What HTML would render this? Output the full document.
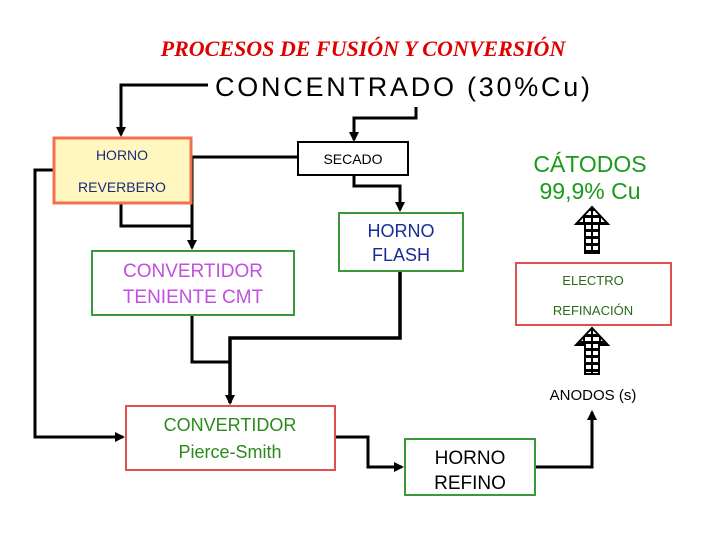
<!DOCTYPE html>
<html><head><meta charset="utf-8"><style>
html,body{margin:0;padding:0;background:#fff;width:720px;height:540px;overflow:hidden}
svg{display:block}
text{font-family:"Liberation Sans",sans-serif}
</style></head><body>
<svg width="720" height="540" viewBox="0 0 720 540" xmlns="http://www.w3.org/2000/svg">
<defs>
<marker id="a" markerWidth="10" markerHeight="10" refX="8" refY="5" orient="auto" markerUnits="userSpaceOnUse"><path d="M0,0 L10,5 L0,10 Z" fill="#000"/></marker>
<pattern id="st" width="8" height="7" patternUnits="userSpaceOnUse"><rect width="8" height="7" fill="#000"/><rect x="1" y="1" width="6" height="4" fill="#fff"/></pattern>
</defs>
<text x="363" y="56" text-anchor="middle" style="font-family:'Liberation Serif',serif;font-style:italic;font-weight:bold" font-size="22" fill="#e00000">PROCESOS DE FUSIÓN Y CONVERSIÓN</text>
<text x="215" y="96" font-size="27" fill="#000" textLength="375">CONCENTRADO (30%Cu)</text>
<g fill="none" stroke="#000" stroke-width="3">
<polyline points="208,85 121,85 121,135" marker-end="url(#a)"/>
<polyline points="416,107 416,118 354,118 354,140" marker-end="url(#a)"/>
<polyline points="297,157 192,157 192,248" marker-end="url(#a)"/>
<polyline points="121,203 121,226 192,226"/>
<polyline points="354,175 354,186 400,186 400,210" marker-end="url(#a)"/>
<polyline points="53,170 35,170 35,437 123,437" marker-end="url(#a)"/>
<polyline points="192,315 192,362 230,362"/>
<polyline points="400,271 400,338 230,338 230,403" stroke-width="3.5" marker-end="url(#a)"/>
<polyline points="335,437 368,437 368,467 402,467" marker-end="url(#a)"/>
<polyline points="535,467 592,467 592,412" marker-end="url(#a)"/>
</g>
<rect x="54" y="138" width="137" height="65" fill="#fff7bf" stroke="#f07050" stroke-width="3"/>
<text x="122" y="160" text-anchor="middle" font-size="14" fill="#1a2a7a">HORNO</text>
<text x="122" y="192" text-anchor="middle" font-size="14" fill="#1a2a7a">REVERBERO</text>
<rect x="298" y="142" width="110" height="33" fill="#fff" stroke="#000" stroke-width="2"/>
<text x="353" y="164" text-anchor="middle" font-size="14" fill="#000">SECADO</text>
<rect x="339" y="213" width="124" height="58" fill="#fff" stroke="#3a9a3a" stroke-width="2"/>
<text x="401" y="237" text-anchor="middle" font-size="18" fill="#1a2a9a">HORNO</text>
<text x="401" y="261" text-anchor="middle" font-size="18" fill="#1a2a9a">FLASH</text>
<rect x="92" y="251" width="202" height="64" fill="#fff" stroke="#3a9a3a" stroke-width="2"/>
<text x="193" y="277" text-anchor="middle" font-size="19" fill="#c050e0">CONVERTIDOR</text>
<text x="193" y="303" text-anchor="middle" font-size="19" fill="#c050e0">TENIENTE CMT</text>
<rect x="126" y="406" width="209" height="64" fill="#fff" stroke="#e05050" stroke-width="2"/>
<text x="230" y="431" text-anchor="middle" font-size="18" fill="#2a8a1a">CONVERTIDOR</text>
<text x="230" y="458" text-anchor="middle" font-size="18" fill="#2a8a1a">Pierce-Smith</text>
<rect x="405" y="439" width="130" height="56" fill="#fff" stroke="#3a9a3a" stroke-width="2"/>
<text x="470" y="464" text-anchor="middle" font-size="19" fill="#000">HORNO</text>
<text x="470" y="489" text-anchor="middle" font-size="19" fill="#000">REFINO</text>
<rect x="516" y="263" width="155" height="62" fill="#fff" stroke="#e05050" stroke-width="2"/>
<text x="593" y="285" text-anchor="middle" font-size="13" fill="#2a6a1a">ELECTRO</text>
<text x="593" y="315" text-anchor="middle" font-size="13" fill="#2a6a1a">REFINACIÓN</text>
<text x="593" y="400" text-anchor="middle" font-size="15" fill="#000">ANODOS (s)</text>
<text x="590" y="172" text-anchor="middle" font-size="23" fill="#1a9a1a">CÁTODOS</text>
<text x="590" y="199" text-anchor="middle" font-size="23" fill="#1a9a1a">99,9% Cu</text>
<path d="M585,253 L585,224 L576,224 L592,207 L608,224 L599,224 L599,253 Z" fill="url(#st)" stroke="#000" stroke-width="2"/>
<path d="M585,374 L585,345 L576,345 L592,328 L608,345 L599,345 L599,374 Z" fill="url(#st)" stroke="#000" stroke-width="2"/>
</svg>
</body></html>
